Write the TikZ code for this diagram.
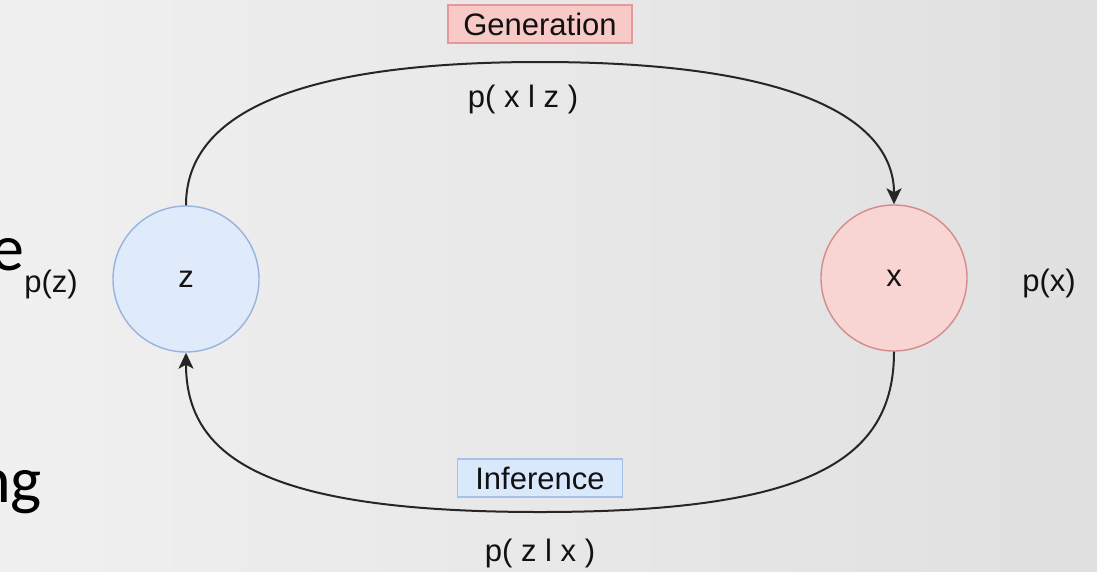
\documentclass[tikz,border=0pt]{standalone}
\usepackage{fontspec}
\setmainfont{Liberation Sans}
\newfontfamily\slidefont{Carlito}
\usetikzlibrary{arrows.meta}
\definecolor{bgleft}{HTML}{F0F0F0}
\definecolor{bgright}{HTML}{E0E0E0}
\definecolor{zfill}{HTML}{DFEAFA}
\definecolor{zline}{HTML}{98B4DE}
\definecolor{xfill}{HTML}{F8D5D3}
\definecolor{xline}{HTML}{D48C8A}
\definecolor{genfill}{HTML}{F7CAC8}
\definecolor{genline}{HTML}{E59896}
\definecolor{inffill}{HTML}{DAE8FC}
\definecolor{infline}{HTML}{A6C2EA}
\definecolor{ink}{HTML}{111111}
\definecolor{edgecol}{HTML}{262626}
\tikzset{
  lbl/.style={font=\fontsize{31}{36}\selectfont, text=ink, inner sep=0pt},
  var/.style={circle, minimum size=146pt, inner sep=0pt, line width=1.4pt, font=\fontsize{31}{36}\selectfont, text=ink},
  tagbox/.style={rectangle, inner sep=0pt, minimum height=38pt, line width=1.4pt, font=\fontsize{31}{36}\selectfont, text=ink},
  slide/.style={font=\slidefont\fontsize{66}{70}\selectfont, text=black, inner sep=0pt},
  edge/.style={draw=edgecol, line width=2pt},
  tip/.style={-{Stealth[length=16pt,width=15pt,inset=4pt]}}
}
\begin{document}
\begin{tikzpicture}[x=1pt,y=-1pt]
\useasboundingbox (0,0) rectangle (1097,571);
\shade[left color=bgleft, right color=bgright] (0,0) rectangle (1097,571);
% slide text fragments
\node[slide, anchor=base east] (se) at (25,270) {e};
\node[slide, anchor=base east] (sng) at (42,502) {ng};
% nodes
\node[var, fill=zfill, draw=zline] (z) at (186,279) {\raisebox{-3pt}{z}};
\node[var, fill=xfill, draw=xline] (x) at (894,278) {\raisebox{-3pt}{x}};
\node[lbl] (pz) at (51,284) {p(z)};
\node[lbl] (px) at (1049,283) {p(x)};
\node[tagbox, fill=genfill, draw=genline, minimum width=184pt] (gen) at (540,24) {Generation};
\node[tagbox, fill=inffill, draw=infline, minimum width=165pt] (inf) at (540,478) {Inference};
\node[lbl] (pxz) at (523,99) {p( x l z )};
\node[lbl] (pzx) at (540,553) {p( z l x )};
\coordinate (tm) at (540,62);
\coordinate (bm) at (540,512);
% edges
\draw[edge,tip] (z.north) .. controls (186,130) and (260,62) .. (tm)
  .. controls (820,62) and (894,130) .. (x.north);
\draw[edge,tip] (x.south) .. controls (894,460) and (810,512) .. (bm)
  .. controls (270,512) and (186,460) .. (z.south);
\end{tikzpicture}
\end{document}
